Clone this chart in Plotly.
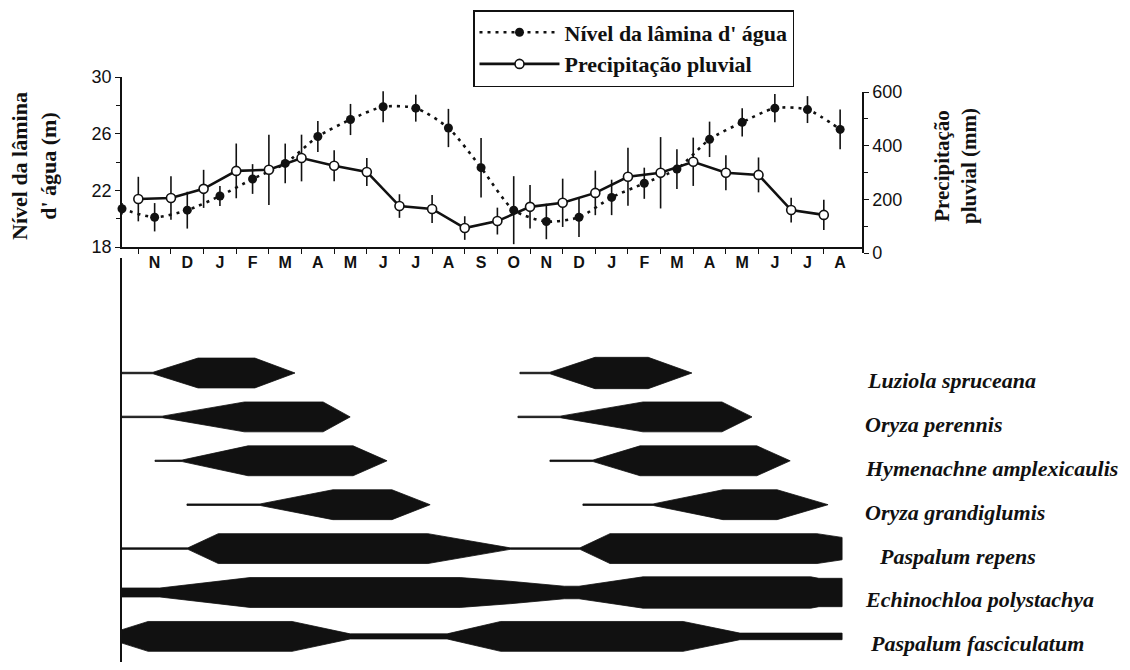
import plotly.graph_objects as go

# ---------------- data ----------------
month_labels = ["N", "D", "J", "F", "M", "A", "M", "J", "J", "A", "S",
                "O", "N", "D", "J", "F", "M", "A", "M", "J", "J", "A"]
month_pos = [1, 2, 3, 4, 5, 6, 7, 8, 9, 10, 11,
             12, 13, 14, 15, 16, 17, 18, 19, 20, 21, 22]

# water level (m), mid-month (Oct .. Aug)
level_month = [0, 1, 2, 3, 4, 5, 6, 7, 8, 9, 10, 11,
               12, 13, 14, 15, 16, 17, 18, 19, 20, 21, 22]
level_m = [20.7, 20.1, 20.6, 21.6, 22.8, 23.9, 25.8, 27.0, 27.9, 27.8, 26.4, 23.6,
           20.6, 19.8, 20.1, 21.5, 22.5, 23.5, 25.6, 26.8, 27.8, 27.7, 26.3]
level_err = [0.4, 1.0, 1.3, 0.7, 1.05, 1.4, 1.1, 1.1, 1.1, 0.95, 1.35, 2.1,
             2.4, 1.25, 1.4, 1.25, 1.1, 1.4, 1.25, 1.0, 1.0, 0.95, 1.4]

# rainfall (mm), at month boundaries
rain_month = [0.5, 1.5, 2.5, 3.5, 4.5, 5.5, 6.5, 7.5, 8.5, 9.5, 10.5,
              11.5, 12.5, 13.5, 14.5, 15.5, 16.5, 17.5, 18.5, 19.5, 20.5, 21.5]
rain_mm = [201, 205, 239, 306, 310, 354, 325, 302, 175, 164, 93,
           119, 172, 187, 224, 284, 299, 340, 299, 291, 160, 142]
rain_err = [83, 81, 71, 102, 131, 87, 58, 52, 44, 52, 44,
            50, 81, 90, 83, 108, 133, 90, 65, 65, 46, 56]

# species phenology: month positions and relative cover (None separates periods)
species = ["Luziola spruceana", "Oryza perennis", "Hymenachne amplexicaulis",
           "Oryza grandiglumis", "Paspalum repens", "Echinochloa polystachya",
           "Paspalum fasciculatum"]

luziola_x = [0, 0.95, 2.33, 4.07, 5.3, None, 12.19, 13.11, 14.49, 16.12, 17.46]
luziola_w = [0.05, 0.05, 1, 1, 0, None, 0.05, 0.05, 1.05, 1.05, 0]

oryza_p_x = [0, 1.23, 3.75, 6.16, 6.99, None, 12.13, 13.42, 15.96, 18.38, 19.3]
oryza_p_w = [0.05, 0.05, 1, 1, 0, None, 0.05, 0.05, 1, 1, 0]

hymen_x = [1.01, 1.84, 3.86, 7.08, 8.12, None, 13.11, 14.43, 15.87, 19.45, 20.47]
hymen_w = [0.04, 0.05, 1, 1, 0, None, 0.05, 0.05, 1, 1, 0]

oryza_g_x = [1.99, 4.23, 6.46, 8.27, 9.44, None, 14.12, 16.27, 18.41, 20.07, 21.63]
oryza_g_w = [0.05, 0.05, 1, 1, 0, None, 0.05, 0.05, 1, 1, 0]

repens_x = [0, 2.02, 2.95, 9.37, 11.89, 14.03, 14.95, 21.29, 22.06]
repens_w = [0.05, 0.05, 1, 1, 0.05, 0.05, 1, 1, 0.75]

echino_x = [0, 1.16, 3.92, 10.36, 11.9, 13.55, 14.0, 15.96, 21.1, 21.35, 22.06]
echino_w = [0.3, 0.3, 1, 1, 0.75, 0.42, 0.42, 1.05, 1.05, 0.95, 0.95]

fascic_x = [0, 0.8, 5.21, 6.99, 9.96, 11.6, 17.19, 18.93, 22.06]
fascic_w = [0.45, 1, 1, 0.17, 0.17, 1, 1, 0.22, 0.22]

species_x = [luziola_x, oryza_p_x, hymen_x, oryza_g_x, repens_x, echino_x, fascic_x]
species_w = [luziola_w, oryza_p_w, hymen_w, oryza_g_w, repens_w, echino_w, fascic_w]

# ---------------- figure geometry (screen pixels, page body has 8px margin) ----------------
OFF = 8
W, H = 1130 - 2 * OFF, 670 - 2 * OFF
PLOT_L, PLOT_R, PLOT_T, PLOT_B = 122, 862, 77, 670 - OFF
ML, MR, MT, MB = PLOT_L - OFF, W - (PLOT_R - OFF), PLOT_T - OFF, H - (PLOT_B - OFF)
PH = H - MT - MB
PW = W - ML - MR


def py(px):  # screen pixel row -> paper y
    return (PLOT_B - px) / PH


def pxx(px):  # screen pixel column -> paper x
    return (px - PLOT_L) / PW


SERIF = "Liberation Serif"
SANS = "Liberation Sans"
BLACK = "#111111"

fig = go.Figure()

fig.add_trace(go.Scatter(
    x=level_month, y=level_m, name="Nível da lâmina d' água",
    mode="lines+markers", xaxis="x", yaxis="y",
    line=dict(color=BLACK, width=2.6, dash="3px,5px", shape="spline", smoothing=0.7),
    marker=dict(symbol="circle", size=9, color=BLACK),
    error_y=dict(type="data", array=level_err, visible=True, color=BLACK, thickness=1.6, width=0),
    cliponaxis=False,
))

fig.add_trace(go.Scatter(
    x=rain_month, y=rain_mm, name="Precipitação pluvial",
    mode="lines+markers", xaxis="x", yaxis="y2",
    line=dict(color=BLACK, width=2.6),
    marker=dict(symbol="circle", size=9, color="white", line=dict(color=BLACK, width=1.6)),
    error_y=dict(type="data", array=rain_err, visible=True, color=BLACK, thickness=1.6, width=0),
    cliponaxis=False,
))

HALF = 0.34
for i, (xs, ws) in enumerate(zip(species_x, species_w)):
    px_, py_ = [], []
    seg_x, seg_w = [], []
    segs = []
    for xv, wv in zip(xs + [None], ws + [None]):
        if xv is None:
            segs.append((seg_x, seg_w))
            seg_x, seg_w = [], []
        else:
            seg_x.append(xv)
            seg_w.append(wv)
    for sx, sw in segs:
        up = [i - w * HALF for w in sw]
        lo = [i + w * HALF for w in sw]
        px_ += sx + sx[::-1] + [sx[0], None]
        py_ += up + lo[::-1] + [up[0], None]
    fig.add_trace(go.Scatter(
        x=px_, y=py_, mode="lines", fill="toself", fillcolor=BLACK,
        line=dict(color=BLACK, width=0.8), xaxis="x", yaxis="y3",
        showlegend=False, hoverinfo="skip", name=species[i],
    ))

# species labels
label_px = [865, 863, 863, 863, 877, 863, 868]
for i, name in enumerate(species):
    fig.add_annotation(
        x=pxx(label_px[i]), xref="paper", xanchor="left",
        y=i + 0.17, yref="y3", yanchor="middle",
        text=f"<b><i>{name}</i></b>", showarrow=False,
        font=dict(family=SERIF, size=22, color=BLACK),
    )

# axis titles
fig.add_annotation(
    x=pxx(34), xref="paper", y=py(166), yref="paper",
    text="<b>Nível da lâmina<br>d' água (m)</b>", textangle=-90, showarrow=False,
    font=dict(family=SERIF, size=22, color=BLACK), xanchor="center", yanchor="middle",
)
fig.add_annotation(
    x=pxx(955), xref="paper", y=py(166), yref="paper",
    text="<b>Precipitação<br>pluvial (mm)</b>", textangle=-90, showarrow=False,
    font=dict(family=SERIF, size=21, color=BLACK), xanchor="center", yanchor="middle",
)

fig.update_layout(
    width=W, height=H,
    margin=dict(l=ML, r=MR, t=MT, b=MB, autoexpand=False),
    paper_bgcolor="white", plot_bgcolor="rgba(0,0,0,0)",
    showlegend=True,
    legend=dict(
        x=pxx(473), y=py(10), xanchor="left", yanchor="top",
        bordercolor=BLACK, borderwidth=1.5, bgcolor="white",
        font=dict(family=SERIF, size=22, color=BLACK, weight="bold"),
        itemwidth=80, tracegroupgap=0,
    ),
    xaxis=dict(
        domain=[0, 1], anchor="y", range=[0, 22.67],
        tickmode="array", tickvals=month_pos, ticktext=month_labels,
        ticks="", showline=True, linecolor=BLACK, linewidth=1.5,
        showgrid=False, zeroline=False,
        tickfont=dict(family=SANS, size=16, color=BLACK, weight="bold"),
        minor=dict(tickmode="array", tickvals=rain_month, ticks="outside",
                   ticklen=5, tickwidth=1.3, tickcolor=BLACK, showgrid=False),
    ),
    yaxis=dict(
        domain=[py(247), 1], anchor="x", range=[18, 30],
        tickmode="array", tickvals=[18, 22, 26, 30],
        ticks="outside", ticklen=5, tickwidth=1.3, tickcolor=BLACK,
        showline=True, linecolor=BLACK, linewidth=1.5,
        showgrid=False, zeroline=False,
        tickfont=dict(family=SANS, size=18, color=BLACK),
        minor=dict(tickmode="array", tickvals=[20, 24, 28], ticks="outside",
                   ticklen=4, tickwidth=1.3, tickcolor=BLACK, showgrid=False),
    ),
    yaxis2=dict(
        domain=[py(253), py(92)], anchor="x", side="right", range=[0, 600],
        tickmode="array", tickvals=[0, 200, 400, 600],
        ticks="outside", ticklen=5, tickwidth=1.3, tickcolor=BLACK,
        showline=True, linecolor=BLACK, linewidth=1.5,
        showgrid=False, zeroline=False,
        tickfont=dict(family=SANS, size=18, color=BLACK),
        minor=dict(tickmode="array", tickvals=[100, 300, 500], ticks="outside",
                   ticklen=4, tickwidth=1.3, tickcolor=BLACK, showgrid=False),
    ),
    yaxis3=dict(
        domain=[0, py(258)], anchor="x", range=[(PLOT_B - 373) / 43.9, (258 - 373) / 43.9],
        showline=True, linecolor=BLACK, linewidth=1.5,
        showticklabels=False, ticks="", showgrid=False, zeroline=False,
    ),
)

fig.write_html("out.html")
